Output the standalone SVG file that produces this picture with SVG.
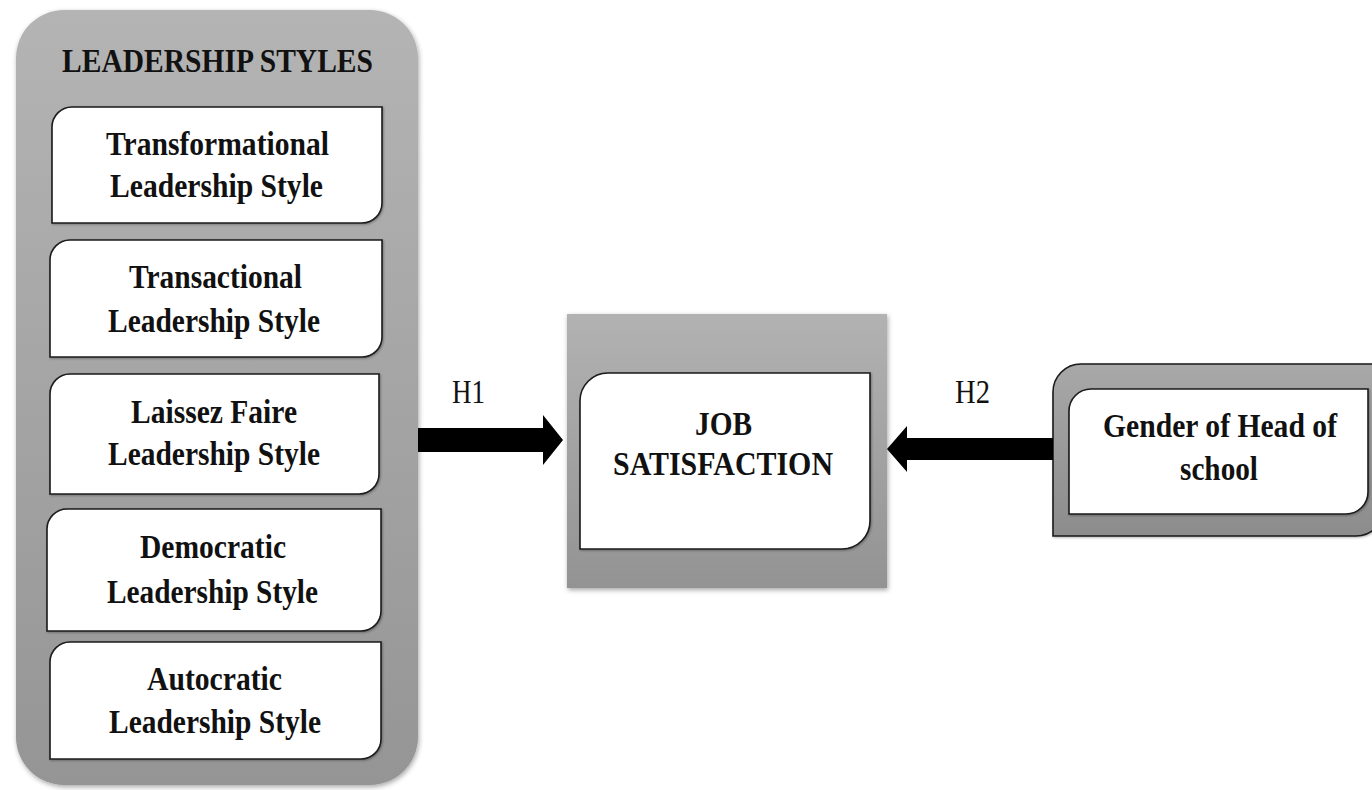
<svg xmlns="http://www.w3.org/2000/svg" width="1372" height="790" viewBox="0 0 1372 790">
<defs>
<linearGradient id="gLeft" x1="0" y1="0" x2="0" y2="1"><stop offset="0" stop-color="#b4b4b4"/><stop offset="1" stop-color="#959595"/></linearGradient>
<linearGradient id="gMid" x1="0" y1="0" x2="0" y2="1"><stop offset="0" stop-color="#b2b2b2"/><stop offset="1" stop-color="#939393"/></linearGradient>
<linearGradient id="gRight" x1="0" y1="0" x2="0" y2="1"><stop offset="0" stop-color="#a8a8a8"/><stop offset="1" stop-color="#8c8c8c"/></linearGradient>
<filter id="sh" x="-10%" y="-10%" width="120%" height="120%"><feDropShadow dx="1" dy="2" stdDeviation="2.5" flood-color="#000" flood-opacity="0.35"/></filter>
<filter id="shs" x="-10%" y="-10%" width="120%" height="120%"><feDropShadow dx="1" dy="1" stdDeviation="1.2" flood-color="#000" flood-opacity="0.3"/></filter>
</defs>
<style>
.inner{fill:#fff;stroke:#1a1a1a;stroke-width:1.6;filter:url(#shs)}
.t{font-family:"Liberation Serif","Times New Roman",serif;font-weight:bold;font-size:33px;fill:#111;text-anchor:middle}
.h{font-family:"Liberation Serif","Times New Roman",serif;font-size:33px;fill:#111;text-anchor:middle}
.arrow{fill:#000}
</style>
<rect width="1372" height="790" fill="#fff"/>
<g id="leadership-styles">
<rect x="16" y="10" width="402" height="775" rx="48" ry="48" fill="url(#gLeft)" filter="url(#sh)"/>
<text class="t" x="217.5" y="72" textLength="311" lengthAdjust="spacingAndGlyphs">LEADERSHIP STYLES</text>
</g>
<g id="transformational">
<path class="inner" d="M72,107 H382 V203 A20,20 0 0 1 362,223 H52 V127 A20,20 0 0 1 72,107 Z"/>
<text class="t" x="217.5" y="155" textLength="223" lengthAdjust="spacingAndGlyphs">Transformational</text>
<text class="t" x="216.5" y="197" textLength="213" lengthAdjust="spacingAndGlyphs">Leadership Style</text>
</g>
<g id="transactional">
<path class="inner" d="M70,240 H382 V337 A20,20 0 0 1 362,357 H50 V260 A20,20 0 0 1 70,240 Z"/>
<text class="t" x="215.5" y="288" textLength="173" lengthAdjust="spacingAndGlyphs">Transactional</text>
<text class="t" x="214" y="332" textLength="212" lengthAdjust="spacingAndGlyphs">Leadership Style</text>
</g>
<g id="laissez-faire">
<path class="inner" d="M70,374 H379 V474 A20,20 0 0 1 359,494 H50 V394 A20,20 0 0 1 70,374 Z"/>
<text class="t" x="214" y="423" textLength="166" lengthAdjust="spacingAndGlyphs">Laissez Faire</text>
<text class="t" x="214" y="465" textLength="212" lengthAdjust="spacingAndGlyphs">Leadership Style</text>
</g>
<g id="democratic">
<path class="inner" d="M67,509 H381 V611 A20,20 0 0 1 361,631 H47 V529 A20,20 0 0 1 67,509 Z"/>
<text class="t" x="213" y="558" textLength="146" lengthAdjust="spacingAndGlyphs">Democratic</text>
<text class="t" x="212.5" y="603" textLength="211" lengthAdjust="spacingAndGlyphs">Leadership Style</text>
</g>
<g id="autocratic">
<path class="inner" d="M70,642 H381 V739 A20,20 0 0 1 361,759 H50 V662 A20,20 0 0 1 70,642 Z"/>
<text class="t" x="214.5" y="690" textLength="135" lengthAdjust="spacingAndGlyphs">Autocratic</text>
<text class="t" x="215" y="733" textLength="212" lengthAdjust="spacingAndGlyphs">Leadership Style</text>
</g>
<g id="job-satisfaction">
<rect x="567" y="314" width="320" height="274" fill="url(#gMid)" filter="url(#sh)"/>
<path class="inner" d="M608,373 H870 V521 A28,28 0 0 1 842,549 H580 V401 A28,28 0 0 1 608,373 Z"/>
<text class="t" x="723.5" y="435" textLength="57" lengthAdjust="spacingAndGlyphs">JOB</text>
<text class="t" x="723" y="475" textLength="220" lengthAdjust="spacingAndGlyphs">SATISFACTION</text>
</g>
<g id="gender">
<path d="M1081,364 H1384 V508 A28,28 0 0 1 1356,536 H1053 V392 A28,28 0 0 1 1081,364 Z" fill="url(#gRight)" stroke="#1a1a1a" stroke-width="1.6" filter="url(#shs)"/>
<path class="inner" d="M1091,389 H1368 V492 A22,22 0 0 1 1346,514 H1069 V411 A22,22 0 0 1 1091,389 Z"/>
<text class="t" x="1220" y="437" textLength="234" lengthAdjust="spacingAndGlyphs">Gender of Head of</text>
<text class="t" x="1219" y="480" textLength="78" lengthAdjust="spacingAndGlyphs">school</text>
</g>
<g id="connectors">
<path class="arrow" d="M418,428 H543 V415 L563,440 L543,465 V452 H418 Z"/>
<text class="h" x="468.5" y="403" textLength="33" lengthAdjust="spacingAndGlyphs">H1</text>
<path class="arrow" d="M1053,438 H907 V426 L887,449 L907,472 V460 H1053 Z"/>
<text class="h" x="972.5" y="403" textLength="35" lengthAdjust="spacingAndGlyphs">H2</text>
</g>
</svg>
